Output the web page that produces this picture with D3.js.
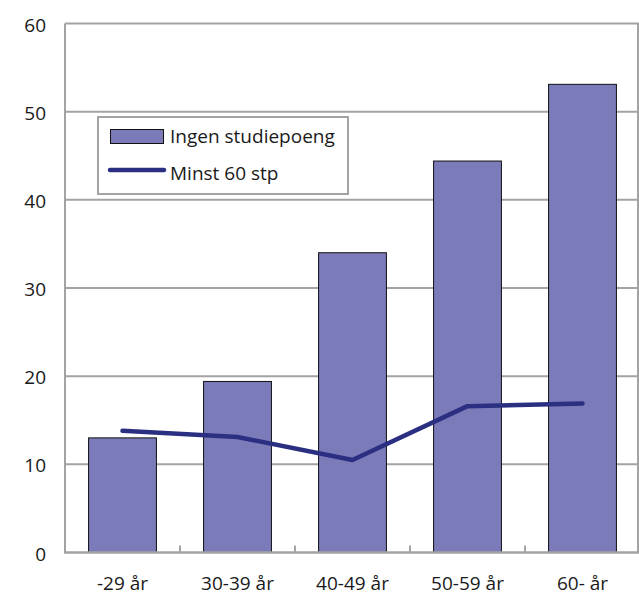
<!DOCTYPE html>
<html>
<head>
<meta charset="utf-8">
<script src="https://cdn.jsdelivr.net/npm/d3@7"></script>
<style>
  body { margin: 0; background: #fff; }
  text { font-family: "Open Sans", sans-serif; fill: #1a1a1a; }
</style>
</head>
<body>
<svg id="chart"></svg>
<script>
const categories = ["-29 år", "30-39 år", "40-49 år", "50-59 år", "60- år"];
const ingenStp = [13.0, 19.4, 34.0, 44.4, 53.1];
const minst60 = [13.8, 13.1, 10.5, 16.6, 16.9];
const yTicks = [0, 10, 20, 30, 40, 50, 60];

const width = 639;
const height = 596;
const margin = { top: 23.5, right: 0, bottom: 43.5, left: 65 };

const svg = d3.select("#chart")
    .attr("width", width)
    .attr("height", height);

const x = d3.scaleBand()
    .domain(categories)
    .range([margin.left, width + 1])
    .paddingInner(0.41)
    .paddingOuter(0.205);

const xStep = d3.scaleBand()
    .domain(categories)
    .range([margin.left, width + 1]);

const y = d3.scaleLinear()
    .domain([0, 60])
    .range([height - margin.bottom, margin.top]);

// gridlines
svg.append("g")
  .selectAll("line")
  .data(yTicks.filter(d => d > 0))
  .join("line")
    .attr("x1", margin.left)
    .attr("x2", width)
    .attr("y1", d => y(d))
    .attr("y2", d => y(d))
    .attr("stroke", "#a3a3a3")
    .attr("stroke-width", 2);

// left and right frame
svg.append("line")
    .attr("x1", margin.left).attr("x2", margin.left)
    .attr("y1", y(60)).attr("y2", y(0))
    .attr("stroke", "#a3a3a3").attr("stroke-width", 2);
svg.append("line")
    .attr("x1", width - 1).attr("x2", width - 1)
    .attr("y1", y(60)).attr("y2", y(0))
    .attr("stroke", "#a3a3a3").attr("stroke-width", 2);

// y labels
svg.append("g")
  .selectAll("text")
  .data(yTicks)
  .join("text")
    .attr("x", 46)
    .attr("y", d => y(d) + 8)
    .attr("text-anchor", "end")
    .style("font-size", "19px")
    .text(d => d);

// bars
svg.append("g")
  .selectAll("rect")
  .data(ingenStp)
  .join("rect")
    .attr("x", (d, i) => x(categories[i]))
    .attr("y", d => y(d))
    .attr("width", x.bandwidth())
    .attr("height", d => y(0) - y(d))
    .attr("fill", "#7b7bba")
    .attr("stroke", "#111")
    .attr("stroke-width", 1);

// x axis
svg.append("line")
    .attr("x1", margin.left - 1).attr("x2", width)
    .attr("y1", y(0)).attr("y2", y(0))
    .attr("stroke", "#a3a3a3").attr("stroke-width", 2.5);

svg.append("g")
  .selectAll("line")
  .data(categories.slice(1))
  .join("line")
    .attr("x1", d => xStep(d))
    .attr("x2", d => xStep(d))
    .attr("y1", y(0) - 7)
    .attr("y2", y(0))
    .attr("stroke", "#a3a3a3").attr("stroke-width", 2);

svg.append("g")
  .selectAll("text")
  .data(categories)
  .join("text")
    .attr("x", d => x(d) + x.bandwidth() / 2)
    .attr("y", 590)
    .attr("text-anchor", "middle")
    .style("font-size", "19px")
    .text(d => d);

// line
const line = d3.line()
    .x((d, i) => x(categories[i]) + x.bandwidth() / 2)
    .y(d => y(d));

svg.append("path")
    .datum(minst60)
    .attr("d", line)
    .attr("fill", "none")
    .attr("stroke", "#2b2f82")
    .attr("stroke-width", 4.5)
    .attr("stroke-linecap", "round")
    .attr("stroke-linejoin", "round");

// legend
const legend = svg.append("g");
legend.append("rect")
    .attr("x", 98).attr("y", 117)
    .attr("width", 250).attr("height", 77)
    .attr("fill", "#fff")
    .attr("stroke", "#a3a3a3").attr("stroke-width", 2);
legend.append("rect")
    .attr("x", 110.5).attr("y", 129.5)
    .attr("width", 53).attr("height", 14)
    .attr("fill", "#7b7bba")
    .attr("stroke", "#111").attr("stroke-width", 1);
legend.append("text")
    .attr("x", 170).attr("y", 143)
    .style("font-size", "19px")
    .text("Ingen studiepoeng");
legend.append("line")
    .attr("x1", 110).attr("x2", 164)
    .attr("y1", 170).attr("y2", 170)
    .attr("stroke", "#2b2f82").attr("stroke-width", 4.5)
    .attr("stroke-linecap", "round");
legend.append("text")
    .attr("x", 170).attr("y", 180)
    .style("font-size", "19px")
    .text("Minst 60 stp");
</script>
</body>
</html>
